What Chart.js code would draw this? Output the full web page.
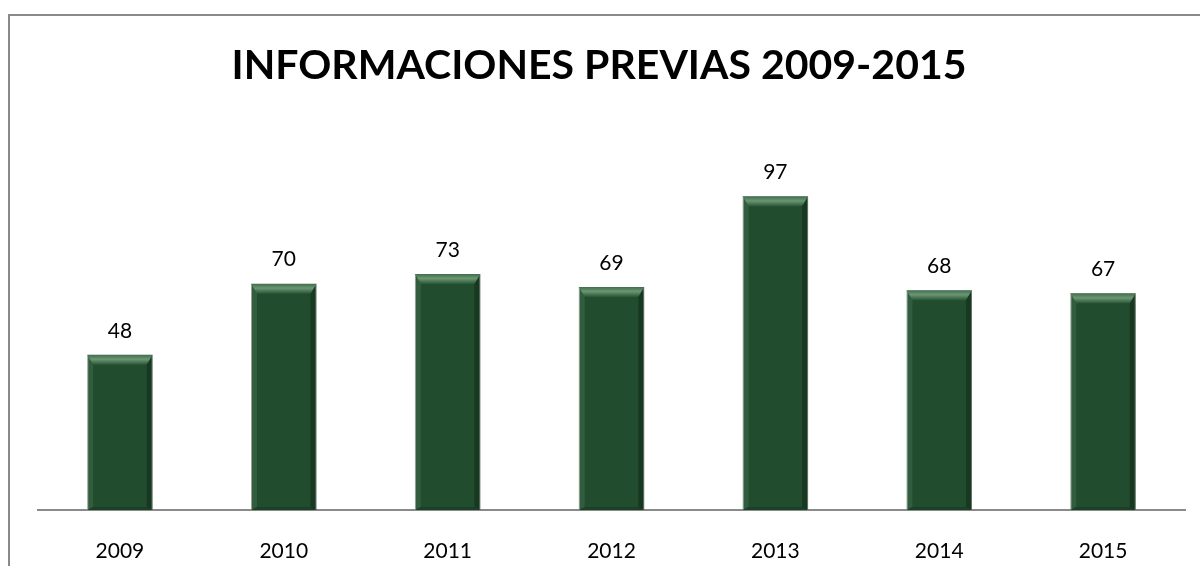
<!DOCTYPE html>
<html lang="es">
<head>
    <meta charset="UTF-8">
    <title>Informaciones previas 2009-2015</title>
    <script src="https://cdn.jsdelivr.net/npm/chart.js"></script>
    <style>
        body { margin: 0; background: #fff; }
        #wrap { width: 1200px; height: 566px; position: relative; }
    </style>
</head>
<body>
    <div id="wrap"><canvas id="previasChart"></canvas></div>
    <script>
        const years = ['2009', '2010', '2011', '2012', '2013', '2014', '2015'];
        const previas = [48, 70, 73, 69, 97, 68, 67];
        const chartTitle = 'INFORMACIONES PREVIAS 2009-2015';

        const fontFamily = "Lato, 'Open Sans', sans-serif";

        // frame line around the chart (left and top edges) and the title
        const framePlugin = {
            id: 'frame',
            beforeDraw(chart) {
                const c = chart.ctx;
                c.save();
                c.strokeStyle = '#8a8a8a';
                c.lineWidth = 2;
                c.beginPath();
                c.moveTo(9, chart.height);
                c.lineTo(9, 15);
                c.lineTo(chart.width, 15);
                c.stroke();

                c.fillStyle = '#000';
                c.font = 'bold 41px ' + fontFamily;
                c.textAlign = 'center';
                c.textBaseline = 'middle';
                c.fillText(chartTitle, 599, 66);
                c.restore();
            }
        };

        // bevel highlights on each bar plus the value above it
        const bevelPlugin = {
            id: 'bevel',
            afterDatasetsDraw(chart) {
                const c = chart.ctx;
                const meta = chart.getDatasetMeta(0);
                c.save();
                meta.data.forEach((bar, i) => {
                    const p = bar.getProps(['x', 'y', 'base', 'width'], true);
                    const l = p.x - p.width / 2, r = p.x + p.width / 2;
                    const t = p.y, b = p.base;
                    const bv = 10, sv = 6;

                    let g = c.createLinearGradient(0, t, 0, t + bv);
                    g.addColorStop(0, '#3f6d4a');
                    g.addColorStop(0.45, '#6a9674');
                    g.addColorStop(1, '#2a5636');
                    c.fillStyle = g;
                    c.beginPath();
                    c.moveTo(l, t); c.lineTo(r, t);
                    c.lineTo(r - sv, t + bv); c.lineTo(l + sv, t + bv);
                    c.closePath(); c.fill();

                    c.fillStyle = 'rgba(90,130,100,0.3)';
                    c.beginPath();
                    c.moveTo(l, t); c.lineTo(l + sv, t + bv);
                    c.lineTo(l + sv, b - 3); c.lineTo(l, b);
                    c.closePath(); c.fill();

                    c.fillStyle = 'rgba(10,35,18,0.45)';
                    c.beginPath();
                    c.moveTo(r, t); c.lineTo(r - sv, t + bv);
                    c.lineTo(r - sv, b - 3); c.lineTo(r, b);
                    c.closePath(); c.fill();

                    c.fillStyle = 'rgba(10,35,18,0.3)';
                    c.beginPath();
                    c.moveTo(l, b); c.lineTo(l + sv, b - 3);
                    c.lineTo(r - sv, b - 3); c.lineTo(r, b);
                    c.closePath(); c.fill();

                    c.fillStyle = '#000';
                    c.font = '21px ' + fontFamily;
                    c.textAlign = 'center';
                    c.textBaseline = 'middle';
                    c.fillText(String(previas[i]), p.x, t - 24);
                });
                c.restore();
            }
        };

        new Chart(document.getElementById('previasChart'), {
            type: 'bar',
            data: {
                labels: years,
                datasets: [{
                    data: previas,
                    backgroundColor: '#224c2e',
                    borderColor: 'rgba(150,160,152,0.8)',
                    borderWidth: 1,
                    barPercentage: 0.4,
                    categoryPercentage: 1
                }]
            },
            options: {
                responsive: true,
                maintainAspectRatio: false,
                animation: false,
                layout: { padding: { left: 38, right: 15, top: 122, bottom: 4 } },
                plugins: {
                    legend: { display: false },
                    tooltip: { enabled: false },
                    title: { display: false }
                },
                scales: {
                    x: {
                        grid: { display: false },
                        border: { display: true, color: '#8a8a8a', width: 2 },
                        ticks: { color: '#000', font: { family: fontFamily, size: 21 }, padding: 21 },
                        afterFit(scale) { scale.height = 52; }
                    },
                    y: {
                        display: false,
                        min: 0,
                        max: 120
                    }
                }
            },
            plugins: [framePlugin, bevelPlugin]
        });
    </script>
</body>
</html>
